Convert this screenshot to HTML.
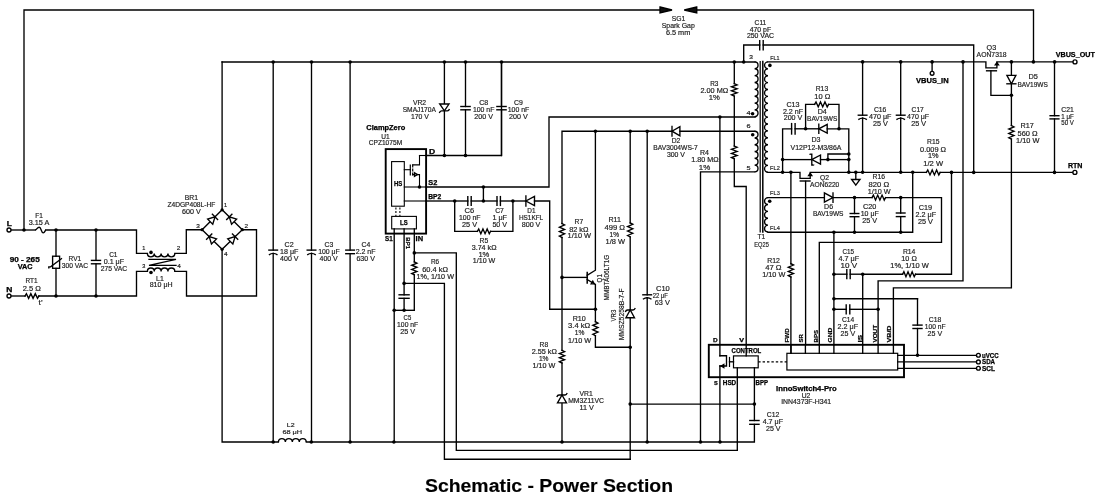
<!DOCTYPE html>
<html><head><meta charset="utf-8"><style>
html,body{margin:0;padding:0;background:#fff;width:1100px;height:502px;overflow:hidden}
svg{display:block;will-change:transform}
text{font-family:"Liberation Sans",sans-serif;stroke:#222;stroke-width:0.18px}
</style></head><body>
<svg width="1100" height="502" viewBox="0 0 1100 502">
<rect width="1100" height="502" fill="#fff"/>
<polyline points="24,230 24,10 660,10" fill="none" stroke="#000" stroke-width="1.35" stroke-linejoin="miter" stroke-linecap="square"/>
<path d="M660,7 L672,10 L660,13 Z" fill="#111" stroke="#000" stroke-width="1.35" />
<polyline points="696.75,10 1033.5,10 1033.5,62" fill="none" stroke="#000" stroke-width="1.35" stroke-linejoin="miter" stroke-linecap="square"/>
<path d="M696.75,7 L684.25,10 L696.75,13 Z" fill="#111" stroke="#000" stroke-width="1.35" />
<text x="671.7" y="20.5" textLength="13.6" lengthAdjust="spacingAndGlyphs" font-size="6.7" fill="#222">SG1</text>
<text x="661.7" y="27.5" textLength="33.1" lengthAdjust="spacingAndGlyphs" font-size="6.7" fill="#222">Spark Gap</text>
<text x="665.95" y="34.5" textLength="24.35" lengthAdjust="spacingAndGlyphs" font-size="6.7" fill="#222">6.5 mm</text>
<polyline points="11.3,230 35,230" fill="none" stroke="#000" stroke-width="1.35" stroke-linejoin="miter" stroke-linecap="square"/>
<path d="M35,230 C37,230 37,227.2 39.2,227.2 C41.4,227.2 41,232.8 43.2,232.8 C45,232.8 45,230 46,230" fill="none" stroke="#000" stroke-width="1.35" />
<polyline points="46,230 136.5,230 136.5,253.4 147.4,253.4" fill="none" stroke="#000" stroke-width="1.35" stroke-linejoin="miter" stroke-linecap="square"/>
<circle cx="9" cy="230" r="2" fill="#fff" stroke="#000" stroke-width="1.35"/>
<circle cx="24" cy="230" r="1.8" fill="#000"/>
<circle cx="56" cy="230" r="1.8" fill="#000"/>
<circle cx="96" cy="230" r="1.8" fill="#000"/>
<text x="6.7" y="225.8" textLength="5.1" lengthAdjust="spacingAndGlyphs" font-size="6.5" font-weight="bold" style="stroke:#000;stroke-width:0.25px" fill="#000">L</text>
<text x="35.2" y="217.8" textLength="7.6" lengthAdjust="spacingAndGlyphs" font-size="6.7" fill="#222">F1</text>
<text x="28.7" y="225.2" textLength="20.6" lengthAdjust="spacingAndGlyphs" font-size="6.7" fill="#222">3.15 A</text>
<polyline points="11.3,296 25,296" fill="none" stroke="#000" stroke-width="1.35" stroke-linejoin="miter" stroke-linecap="square"/>
<polyline points="25,296 26.39,293.6 28.61,298.4 30.84,293.6 33.06,298.4 35.29,293.6 37.51,298.4 38.9,296" fill="none" stroke="#000" stroke-width="1.35" stroke-linejoin="miter" stroke-linecap="square"/>
<polyline points="38.9,296 136.5,296 136.5,271.4 147.4,271.4" fill="none" stroke="#000" stroke-width="1.35" stroke-linejoin="miter" stroke-linecap="square"/>
<circle cx="9" cy="296" r="2" fill="#fff" stroke="#000" stroke-width="1.35"/>
<circle cx="56" cy="296" r="1.8" fill="#000"/>
<circle cx="96" cy="296" r="1.8" fill="#000"/>
<text x="6.2" y="292" textLength="6.1" lengthAdjust="spacingAndGlyphs" font-size="6.5" font-weight="bold" style="stroke:#000;stroke-width:0.25px" fill="#000">N</text>
<text x="25.4" y="283.4" textLength="12.1" lengthAdjust="spacingAndGlyphs" font-size="6.7" fill="#222">RT1</text>
<text x="22.7" y="290.7" textLength="18.1" lengthAdjust="spacingAndGlyphs" font-size="6.7" fill="#222">2.5 Ω</text>
<text x="38.6" y="304.8" textLength="3.9" lengthAdjust="spacingAndGlyphs" font-size="6.6" fill="#222">t'</text>
<text x="9.7" y="261.8" textLength="30" lengthAdjust="spacingAndGlyphs" font-size="6.6" font-weight="bold" style="stroke:#000;stroke-width:0.25px" fill="#000">90 - 265</text>
<text x="17.7" y="268.8" textLength="14.9" lengthAdjust="spacingAndGlyphs" font-size="6.6" font-weight="bold" style="stroke:#000;stroke-width:0.25px" fill="#000">VAC</text>
<polyline points="56,230 56,256.2" fill="none" stroke="#000" stroke-width="1.35" stroke-linejoin="miter" stroke-linecap="square"/>
<rect x="52.6" y="256.2" width="7" height="12.1" fill="none" stroke="#000" stroke-width="1.35"/>
<polyline points="56,268.3 56,296" fill="none" stroke="#000" stroke-width="1.35" stroke-linejoin="miter" stroke-linecap="square"/>
<path d="M48.8,268.6 L48.8,266.8 L50.6,266.8 L62,258.2" fill="none" stroke="#000" stroke-width="1.35" />
<text x="68.6" y="260.8" textLength="12.6" lengthAdjust="spacingAndGlyphs" font-size="6.7" fill="#222">RV1</text>
<text x="61.8" y="267.8" textLength="26.3" lengthAdjust="spacingAndGlyphs" font-size="6.7" fill="#222">300 VAC</text>
<polyline points="96,230 96,260.4" fill="none" stroke="#000" stroke-width="1.35" stroke-linejoin="miter" stroke-linecap="square"/>
<polyline points="96,263.8 96,296" fill="none" stroke="#000" stroke-width="1.35" stroke-linejoin="miter" stroke-linecap="square"/>
<polyline points="91.5,260.4 100.5,260.4" fill="none" stroke="#000" stroke-width="1.4" stroke-linejoin="miter" stroke-linecap="square"/>
<polyline points="91.5,263.8 100.5,263.8" fill="none" stroke="#000" stroke-width="1.4" stroke-linejoin="miter" stroke-linecap="square"/>
<text x="109.2" y="256.8" textLength="8.3" lengthAdjust="spacingAndGlyphs" font-size="6.7" fill="#222">C1</text>
<text x="103.7" y="263.9" textLength="20.4" lengthAdjust="spacingAndGlyphs" font-size="6.7" fill="#222">0.1 μF</text>
<text x="100.7" y="271" textLength="26.5" lengthAdjust="spacingAndGlyphs" font-size="6.7" fill="#222">275 VAC</text>
<path d="M147.4,253.4 a3.42,3.42 0 0 0 6.85,0 a3.42,3.42 0 0 0 6.85,0 a3.42,3.42 0 0 0 6.85,0 a3.42,3.42 0 0 0 6.85,0" fill="none" stroke="#000" stroke-width="1.35" />
<path d="M147.4,271.4 a3.42,3.42 0 0 1 6.85,0 a3.42,3.42 0 0 1 6.85,0 a3.42,3.42 0 0 1 6.85,0 a3.42,3.42 0 0 1 6.85,0" fill="none" stroke="#000" stroke-width="1.35" />
<polyline points="174.8,253.4 186.3,253.4 186.3,229.7 202.1,229.7" fill="none" stroke="#000" stroke-width="1.35" stroke-linejoin="miter" stroke-linecap="square"/>
<polyline points="174.8,271.4 186.5,271.4 186.5,296 256.5,296 256.5,229.7 242.3,229.7" fill="none" stroke="#000" stroke-width="1.35" stroke-linejoin="miter" stroke-linecap="square"/>
<polyline points="149,259.4 176,259.4 149,265.4 176,265.4" fill="none" stroke="#000" stroke-width="1.35" stroke-linejoin="miter" stroke-linecap="square"/>
<circle cx="151" cy="252.4" r="1.8" fill="#000"/>
<circle cx="151" cy="272.5" r="1.8" fill="#000"/>
<text x="142.2" y="250" textLength="3.1" lengthAdjust="spacingAndGlyphs" font-size="5.8" fill="#222">1</text>
<text x="176.7" y="250" textLength="3.6" lengthAdjust="spacingAndGlyphs" font-size="5.8" fill="#222">2</text>
<text x="142.2" y="268.2" textLength="3.1" lengthAdjust="spacingAndGlyphs" font-size="5.8" fill="#222">3</text>
<text x="177.2" y="268.2" textLength="3.6" lengthAdjust="spacingAndGlyphs" font-size="5.8" fill="#222">4</text>
<text x="156.1" y="280.8" textLength="7.7" lengthAdjust="spacingAndGlyphs" font-size="6.7" fill="#222">L1</text>
<text x="149.7" y="287.3" textLength="22.9" lengthAdjust="spacingAndGlyphs" font-size="6.7" fill="#222">810 μH</text>
<polyline points="222.1,62 222.1,209.8" fill="none" stroke="#000" stroke-width="1.35" stroke-linejoin="miter" stroke-linecap="square"/>
<polyline points="222.1,249.3 222.1,442 278.4,442" fill="none" stroke="#000" stroke-width="1.35" stroke-linejoin="miter" stroke-linecap="square"/>
<polyline points="202.1,229.7 222.1,209.8 242.3,229.7 222.1,249.3 202.1,229.7" fill="none" stroke="#000" stroke-width="1.35" stroke-linejoin="miter" stroke-linecap="square"/>
<circle cx="222.1" cy="209.8" r="1.6" fill="#000"/>
<circle cx="202.1" cy="229.7" r="1.6" fill="#000"/>
<circle cx="242.3" cy="229.7" r="1.6" fill="#000"/>
<circle cx="222.1" cy="249.3" r="1.6" fill="#000"/>
<path d="M212.74,224.2 L215,216.85 L207.65,219.11 Z" fill="#fff" stroke="#000" stroke-width="1.35" />
<polyline points="217.62,219.47 212.38,214.23" fill="none" stroke="#000" stroke-width="1.35" stroke-linejoin="miter" stroke-linecap="square"/>
<path d="M236.65,219.11 L229.3,216.85 L231.56,224.2 Z" fill="#fff" stroke="#000" stroke-width="1.35" />
<polyline points="231.92,214.23 226.68,219.47" fill="none" stroke="#000" stroke-width="1.35" stroke-linejoin="miter" stroke-linecap="square"/>
<path d="M216.55,238.86 L209.2,236.6 L211.46,243.95 Z" fill="#fff" stroke="#000" stroke-width="1.35" />
<polyline points="211.82,233.98 206.58,239.22" fill="none" stroke="#000" stroke-width="1.35" stroke-linejoin="miter" stroke-linecap="square"/>
<path d="M232.84,243.95 L235.1,236.6 L227.75,238.86 Z" fill="#fff" stroke="#000" stroke-width="1.35" />
<polyline points="237.72,239.22 232.48,233.98" fill="none" stroke="#000" stroke-width="1.35" stroke-linejoin="miter" stroke-linecap="square"/>
<text x="184.7" y="199.8" textLength="13.3" lengthAdjust="spacingAndGlyphs" font-size="6.7" fill="#222">BR1</text>
<text x="167.4" y="206.7" textLength="47.9" lengthAdjust="spacingAndGlyphs" font-size="6.7" fill="#222">Z4DGP408L-HF</text>
<text x="182" y="213.7" textLength="18.7" lengthAdjust="spacingAndGlyphs" font-size="6.7" fill="#222">600 V</text>
<text x="224" y="206.5" textLength="3.1" lengthAdjust="spacingAndGlyphs" font-size="5.8" fill="#222">1</text>
<text x="196.2" y="227.8" textLength="3.6" lengthAdjust="spacingAndGlyphs" font-size="5.8" fill="#222">3</text>
<text x="244.5" y="227.8" textLength="3.6" lengthAdjust="spacingAndGlyphs" font-size="5.8" fill="#222">2</text>
<text x="224" y="255.5" textLength="3.6" lengthAdjust="spacingAndGlyphs" font-size="5.8" fill="#222">4</text>
<polyline points="222.1,62 755,62" fill="none" stroke="#000" stroke-width="1.35" stroke-linejoin="miter" stroke-linecap="square"/>
<circle cx="273.2" cy="62" r="1.8" fill="#000"/>
<circle cx="311.5" cy="62" r="1.8" fill="#000"/>
<circle cx="350.1" cy="62" r="1.8" fill="#000"/>
<circle cx="444.4" cy="62" r="1.8" fill="#000"/>
<circle cx="465.5" cy="62" r="1.8" fill="#000"/>
<circle cx="501.5" cy="62" r="1.8" fill="#000"/>
<polyline points="273.2,62 273.2,250.1" fill="none" stroke="#000" stroke-width="1.35" stroke-linejoin="miter" stroke-linecap="square"/>
<polyline points="273.2,253.3 273.2,442" fill="none" stroke="#000" stroke-width="1.35" stroke-linejoin="miter" stroke-linecap="square"/>
<polyline points="268.9,250.1 277.5,250.1" fill="none" stroke="#000" stroke-width="1.4" stroke-linejoin="miter" stroke-linecap="square"/>
<path d="M268.9,254.9 Q273.2,251.9 277.5,254.9" fill="none" stroke="#000" stroke-width="1.4" />
<polyline points="311.5,62 311.5,250.1" fill="none" stroke="#000" stroke-width="1.35" stroke-linejoin="miter" stroke-linecap="square"/>
<polyline points="311.5,253.3 311.5,442" fill="none" stroke="#000" stroke-width="1.35" stroke-linejoin="miter" stroke-linecap="square"/>
<polyline points="307.2,250.1 315.8,250.1" fill="none" stroke="#000" stroke-width="1.4" stroke-linejoin="miter" stroke-linecap="square"/>
<path d="M307.2,254.9 Q311.5,251.9 315.8,254.9" fill="none" stroke="#000" stroke-width="1.4" />
<polyline points="350.1,62 350.1,250.1" fill="none" stroke="#000" stroke-width="1.35" stroke-linejoin="miter" stroke-linecap="square"/>
<polyline points="350.1,253.7 350.1,442" fill="none" stroke="#000" stroke-width="1.35" stroke-linejoin="miter" stroke-linecap="square"/>
<polyline points="345.8,250.1 354.4,250.1" fill="none" stroke="#000" stroke-width="1.4" stroke-linejoin="miter" stroke-linecap="square"/>
<polyline points="345.8,253.7 354.4,253.7" fill="none" stroke="#000" stroke-width="1.4" stroke-linejoin="miter" stroke-linecap="square"/>
<text x="284.5" y="247.2" textLength="9.1" lengthAdjust="spacingAndGlyphs" font-size="6.7" fill="#222">C2</text>
<text x="280.1" y="254.2" textLength="18.4" lengthAdjust="spacingAndGlyphs" font-size="6.7" fill="#222">18 μF</text>
<text x="280.1" y="261.2" textLength="18.4" lengthAdjust="spacingAndGlyphs" font-size="6.7" fill="#222">400 V</text>
<text x="324.6" y="247.2" textLength="8.7" lengthAdjust="spacingAndGlyphs" font-size="6.7" fill="#222">C3</text>
<text x="318.2" y="254.2" textLength="21.6" lengthAdjust="spacingAndGlyphs" font-size="6.7" fill="#222">100 μF</text>
<text x="319.5" y="261.2" textLength="18.3" lengthAdjust="spacingAndGlyphs" font-size="6.7" fill="#222">400 V</text>
<text x="361.5" y="247.2" textLength="8.8" lengthAdjust="spacingAndGlyphs" font-size="6.7" fill="#222">C4</text>
<text x="355.7" y="254.2" textLength="19.8" lengthAdjust="spacingAndGlyphs" font-size="6.7" fill="#222">2.2 nF</text>
<text x="356.4" y="261.2" textLength="18.5" lengthAdjust="spacingAndGlyphs" font-size="6.7" fill="#222">630 V</text>
<path d="M278.4,442 a3.49,3.49 0 0 1 6.97,0 a3.49,3.49 0 0 1 6.97,0 a3.49,3.49 0 0 1 6.97,0 a3.49,3.49 0 0 1 6.97,0" fill="none" stroke="#000" stroke-width="1.35" />
<polyline points="306.3,442 754.4,442 754.4,424.3" fill="none" stroke="#000" stroke-width="1.35" stroke-linejoin="miter" stroke-linecap="square"/>
<circle cx="273.2" cy="442" r="1.8" fill="#000"/>
<circle cx="311.3" cy="442" r="1.8" fill="#000"/>
<circle cx="350.1" cy="442" r="1.8" fill="#000"/>
<circle cx="393.9" cy="442" r="1.8" fill="#000"/>
<text x="286.8" y="427.4" textLength="7.8" lengthAdjust="spacingAndGlyphs" font-size="6.2" fill="#222">L2</text>
<text x="282.4" y="434.3" textLength="19.8" lengthAdjust="spacingAndGlyphs" font-size="6.2" fill="#222">68 μH</text>
<text x="366.3" y="130.2" textLength="38.9" lengthAdjust="spacingAndGlyphs" font-size="6.8" font-weight="bold" style="stroke:#000;stroke-width:0.25px" fill="#000">ClampZero</text>
<text x="381.2" y="138.5" textLength="8.4" lengthAdjust="spacingAndGlyphs" font-size="6.7" fill="#222">U1</text>
<text x="368.7" y="145.1" textLength="33.5" lengthAdjust="spacingAndGlyphs" font-size="6.7" fill="#222">CPZ1075M</text>
<rect x="385.7" y="149.1" width="40.4" height="84.5" fill="none" stroke="#000" stroke-width="1.9"/>
<rect x="391.6" y="161.6" width="12.7" height="44.6" fill="none" stroke="#000" stroke-width="1.1"/>
<rect x="391.7" y="216.4" width="24.7" height="12.5" fill="none" stroke="#000" stroke-width="1.1"/>
<text x="393.9" y="185.7" textLength="8.3" lengthAdjust="spacingAndGlyphs" font-size="6.3" font-weight="bold" style="stroke:#000;stroke-width:0.25px" fill="#000">HS</text>
<text x="400.1" y="224.9" textLength="7.6" lengthAdjust="spacingAndGlyphs" font-size="6.3" font-weight="bold" style="stroke:#000;stroke-width:0.25px" fill="#000">LS</text>
<path d="M395.9,207.5 L395.9,216 M399.9,207.5 L399.9,216" fill="none" stroke="#000" stroke-width="1.1" stroke-dasharray="2,1.6"/>
<polyline points="404.3,169.7 410.3,169.7" fill="none" stroke="#000" stroke-width="1.1" stroke-linejoin="miter" stroke-linecap="square"/>
<polyline points="410.3,165.2 410.3,174.8" fill="none" stroke="#000" stroke-width="1.2" stroke-linejoin="miter" stroke-linecap="square"/>
<path d="M412.7,164.5 L412.7,167.5 M412.7,168.5 L412.7,171.5 M412.7,172.5 L412.7,175.5" fill="none" stroke="#000" stroke-width="1.2" />
<polyline points="412.7,164.9 419.5,164.9 419.5,155.5" fill="none" stroke="#000" stroke-width="1.1" stroke-linejoin="miter" stroke-linecap="square"/>
<polyline points="412.7,174.6 419.5,174.6 419.5,187" fill="none" stroke="#000" stroke-width="1.1" stroke-linejoin="miter" stroke-linecap="square"/>
<path d="M414.5,172.8 L417.5,174.6 L414.5,176.4 Z" fill="#fff" stroke="#000" stroke-width="1.35" />
<text x="429.1" y="154.1" textLength="6.2" lengthAdjust="spacingAndGlyphs" font-size="6.5" font-weight="bold" style="stroke:#000;stroke-width:0.25px" fill="#000">D</text>
<text x="428.3" y="185.1" textLength="9" lengthAdjust="spacingAndGlyphs" font-size="6.5" font-weight="bold" style="stroke:#000;stroke-width:0.25px" fill="#000">S2</text>
<text x="428.3" y="198.7" textLength="13" lengthAdjust="spacingAndGlyphs" font-size="6.5" font-weight="bold" style="stroke:#000;stroke-width:0.25px" fill="#000">BP2</text>
<text x="385.1" y="241.3" textLength="7.6" lengthAdjust="spacingAndGlyphs" font-size="6.5" font-weight="bold" style="stroke:#000;stroke-width:0.25px" fill="#000">S1</text>
<text x="415.6" y="241.3" textLength="7.5" lengthAdjust="spacingAndGlyphs" font-size="6.5" font-weight="bold" style="stroke:#000;stroke-width:0.25px" fill="#000">IN</text>
<text transform="translate(406.2,237.6) rotate(90)" x="-0.3" y="0" textLength="11.7" lengthAdjust="spacingAndGlyphs" font-size="6" font-weight="bold" style="stroke:#000;stroke-width:0.2px" fill="#000">BP1</text>
<polyline points="419.5,155.5 426,155.5" fill="none" stroke="#000" stroke-width="1.1" stroke-linejoin="miter" stroke-linecap="square"/>
<polyline points="426,155.5 501.5,155.5 501.5,62" fill="none" stroke="#000" stroke-width="1.35" stroke-linejoin="miter" stroke-linecap="square"/>
<circle cx="444.4" cy="155.5" r="1.8" fill="#000"/>
<circle cx="465.5" cy="155.5" r="1.8" fill="#000"/>
<polyline points="444.4,62 444.4,104" fill="none" stroke="#000" stroke-width="1.35" stroke-linejoin="miter" stroke-linecap="square"/>
<path d="M439.7,104 L449,104 L444.4,110.9 Z" fill="#fff" stroke="#000" stroke-width="1.35" />
<path d="M439.3,113 Q440,110.9 441.5,110.9 L447.4,110.9 Q448.8,110.9 449.5,109" fill="none" stroke="#000" stroke-width="1.35" />
<polyline points="444.4,110.9 444.4,155.5" fill="none" stroke="#000" stroke-width="1.35" stroke-linejoin="miter" stroke-linecap="square"/>
<text x="412.9" y="104.6" textLength="13.2" lengthAdjust="spacingAndGlyphs" font-size="6.7" fill="#222">VR2</text>
<text x="402.7" y="111.6" textLength="33.2" lengthAdjust="spacingAndGlyphs" font-size="6.7" fill="#222">SMAJ170A</text>
<text x="410.9" y="118.6" textLength="18" lengthAdjust="spacingAndGlyphs" font-size="6.7" fill="#222">170 V</text>
<polyline points="465.5,62 465.5,106.5" fill="none" stroke="#000" stroke-width="1.35" stroke-linejoin="miter" stroke-linecap="square"/>
<polyline points="465.5,109.8 465.5,155.5" fill="none" stroke="#000" stroke-width="1.35" stroke-linejoin="miter" stroke-linecap="square"/>
<polyline points="460.9,106.5 470.1,106.5" fill="none" stroke="#000" stroke-width="1.4" stroke-linejoin="miter" stroke-linecap="square"/>
<polyline points="460.9,109.8 470.1,109.8" fill="none" stroke="#000" stroke-width="1.4" stroke-linejoin="miter" stroke-linecap="square"/>
<polyline points="501.5,62 501.5,106.5" fill="none" stroke="#000" stroke-width="1.35" stroke-linejoin="miter" stroke-linecap="square"/>
<polyline points="501.5,109.8 501.5,155.5" fill="none" stroke="#000" stroke-width="1.35" stroke-linejoin="miter" stroke-linecap="square"/>
<polyline points="496.9,106.5 506.1,106.5" fill="none" stroke="#000" stroke-width="1.4" stroke-linejoin="miter" stroke-linecap="square"/>
<polyline points="496.9,109.8 506.1,109.8" fill="none" stroke="#000" stroke-width="1.4" stroke-linejoin="miter" stroke-linecap="square"/>
<text x="479.2" y="104.6" textLength="9" lengthAdjust="spacingAndGlyphs" font-size="6.7" fill="#222">C8</text>
<text x="472.9" y="111.6" textLength="21.5" lengthAdjust="spacingAndGlyphs" font-size="6.7" fill="#222">100 nF</text>
<text x="474.3" y="118.6" textLength="18.7" lengthAdjust="spacingAndGlyphs" font-size="6.7" fill="#222">200 V</text>
<text x="514.1" y="104.6" textLength="8.8" lengthAdjust="spacingAndGlyphs" font-size="6.7" fill="#222">C9</text>
<text x="507.7" y="111.6" textLength="21.6" lengthAdjust="spacingAndGlyphs" font-size="6.7" fill="#222">100 nF</text>
<text x="509.1" y="118.6" textLength="18.7" lengthAdjust="spacingAndGlyphs" font-size="6.7" fill="#222">200 V</text>
<polyline points="404.3,187 426,187" fill="none" stroke="#000" stroke-width="1.1" stroke-linejoin="miter" stroke-linecap="square"/>
<polyline points="426,187 549,187 549,117 755,117" fill="none" stroke="#000" stroke-width="1.35" stroke-linejoin="miter" stroke-linecap="square"/>
<circle cx="419.5" cy="187" r="1.8" fill="#000"/>
<circle cx="483.4" cy="187" r="1.8" fill="#000"/>
<circle cx="719.9" cy="117" r="1.8" fill="#000"/>
<polyline points="404.3,201 426,201" fill="none" stroke="#000" stroke-width="1.1" stroke-linejoin="miter" stroke-linecap="square"/>
<polyline points="426,201 454.7,201" fill="none" stroke="#000" stroke-width="1.35" stroke-linejoin="miter" stroke-linecap="square"/>
<polyline points="454.7,201 467.8,201" fill="none" stroke="#000" stroke-width="1.35" stroke-linejoin="miter" stroke-linecap="square"/>
<polyline points="471.2,201 483.4,201" fill="none" stroke="#000" stroke-width="1.35" stroke-linejoin="miter" stroke-linecap="square"/>
<polyline points="467.8,196.6 467.8,205.4" fill="none" stroke="#000" stroke-width="1.4" stroke-linejoin="miter" stroke-linecap="square"/>
<polyline points="471.2,196.6 471.2,205.4" fill="none" stroke="#000" stroke-width="1.4" stroke-linejoin="miter" stroke-linecap="square"/>
<polyline points="483.4,201 497,201" fill="none" stroke="#000" stroke-width="1.35" stroke-linejoin="miter" stroke-linecap="square"/>
<polyline points="500.4,201 512.9,201" fill="none" stroke="#000" stroke-width="1.35" stroke-linejoin="miter" stroke-linecap="square"/>
<polyline points="497,196.6 497,205.4" fill="none" stroke="#000" stroke-width="1.4" stroke-linejoin="miter" stroke-linecap="square"/>
<polyline points="500.4,196.6 500.4,205.4" fill="none" stroke="#000" stroke-width="1.4" stroke-linejoin="miter" stroke-linecap="square"/>
<polyline points="483.4,201 483.4,187" fill="none" stroke="#000" stroke-width="1.35" stroke-linejoin="miter" stroke-linecap="square"/>
<circle cx="454.7" cy="201" r="1.8" fill="#000"/>
<circle cx="483.4" cy="201" r="1.8" fill="#000"/>
<circle cx="512.9" cy="201" r="1.8" fill="#000"/>
<polyline points="512.9,201 525.9,201" fill="none" stroke="#000" stroke-width="1.35" stroke-linejoin="miter" stroke-linecap="square"/>
<path d="M534.5,196.4 L534.5,205.6 L525.9,201 Z" fill="#fff" stroke="#000" stroke-width="1.35" />
<polyline points="525.9,196 525.9,206" fill="none" stroke="#000" stroke-width="1.35" stroke-linejoin="miter" stroke-linecap="square"/>
<polyline points="534.5,201 549.7,201 549.7,309.2 595.5,309.2" fill="none" stroke="#000" stroke-width="1.35" stroke-linejoin="miter" stroke-linecap="square"/>
<polyline points="454.7,201 454.7,231.3 477.4,231.3" fill="none" stroke="#000" stroke-width="1.35" stroke-linejoin="miter" stroke-linecap="square"/>
<polyline points="477.4,231.3 478.72,228.9 480.83,233.7 482.94,228.9 485.06,233.7 487.17,228.9 489.28,233.7 490.6,231.3" fill="none" stroke="#000" stroke-width="1.35" stroke-linejoin="miter" stroke-linecap="square"/>
<polyline points="490.6,231.3 512.9,231.3 512.9,201" fill="none" stroke="#000" stroke-width="1.35" stroke-linejoin="miter" stroke-linecap="square"/>
<text x="464.5" y="213.4" textLength="9.7" lengthAdjust="spacingAndGlyphs" font-size="6.7" fill="#222">C6</text>
<text x="459" y="220.4" textLength="21.5" lengthAdjust="spacingAndGlyphs" font-size="6.7" fill="#222">100 nF</text>
<text x="462" y="227.4" textLength="15" lengthAdjust="spacingAndGlyphs" font-size="6.7" fill="#222">25 V</text>
<text x="495.2" y="213.4" textLength="8.7" lengthAdjust="spacingAndGlyphs" font-size="6.7" fill="#222">C7</text>
<text x="492.4" y="220.4" textLength="14.6" lengthAdjust="spacingAndGlyphs" font-size="6.7" fill="#222">1 μF</text>
<text x="492.4" y="227.4" textLength="14.6" lengthAdjust="spacingAndGlyphs" font-size="6.7" fill="#222">50 V</text>
<text x="527.3" y="213.4" textLength="8.2" lengthAdjust="spacingAndGlyphs" font-size="6.7" fill="#222">D1</text>
<text x="518.9" y="220.4" textLength="24.3" lengthAdjust="spacingAndGlyphs" font-size="6.7" fill="#222">HS1KFL</text>
<text x="521.7" y="227.4" textLength="18.7" lengthAdjust="spacingAndGlyphs" font-size="6.7" fill="#222">800 V</text>
<text x="479.6" y="242.5" textLength="8.7" lengthAdjust="spacingAndGlyphs" font-size="6.7" fill="#222">R5</text>
<text x="471.7" y="249.6" textLength="24.8" lengthAdjust="spacingAndGlyphs" font-size="6.7" fill="#222">3.74 kΩ</text>
<text x="478.4" y="256.5" textLength="11" lengthAdjust="spacingAndGlyphs" font-size="6.7" fill="#222">1%</text>
<text x="472.8" y="263.3" textLength="22.5" lengthAdjust="spacingAndGlyphs" font-size="6.7" fill="#222">1/10 W</text>
<polyline points="394.2,228.9 394.2,442" fill="none" stroke="#000" stroke-width="1.35" stroke-linejoin="miter" stroke-linecap="square"/>
<polyline points="404.1,228.9 404.1,283.4" fill="none" stroke="#000" stroke-width="1.35" stroke-linejoin="miter" stroke-linecap="square"/>
<polyline points="414.3,228.9 414.3,252.9" fill="none" stroke="#000" stroke-width="1.35" stroke-linejoin="miter" stroke-linecap="square"/>
<polyline points="414.3,252.9 414.3,261.9" fill="none" stroke="#000" stroke-width="1.35" stroke-linejoin="miter" stroke-linecap="square"/>
<polyline points="414.3,261.9 416.9,263.19 411.7,265.25 416.9,267.32 411.7,269.38 416.9,271.45 411.7,273.51 414.3,274.8" fill="none" stroke="#000" stroke-width="1.35" stroke-linejoin="miter" stroke-linecap="square"/>
<polyline points="414.3,274.8 414.3,310.3" fill="none" stroke="#000" stroke-width="1.35" stroke-linejoin="miter" stroke-linecap="square"/>
<polyline points="414.3,310.3 394.2,310.3" fill="none" stroke="#000" stroke-width="1.35" stroke-linejoin="miter" stroke-linecap="square"/>
<polyline points="414.3,252.9 456.3,252.9 456.3,450.4 737.3,450.4 737.3,367.8" fill="none" stroke="#000" stroke-width="1.35" stroke-linejoin="miter" stroke-linecap="square"/>
<polyline points="404.1,283.4 404.1,294.8" fill="none" stroke="#000" stroke-width="1.35" stroke-linejoin="miter" stroke-linecap="square"/>
<polyline points="404.1,298.3 404.1,310.3" fill="none" stroke="#000" stroke-width="1.35" stroke-linejoin="miter" stroke-linecap="square"/>
<polyline points="399.1,294.8 409.1,294.8" fill="none" stroke="#000" stroke-width="1.4" stroke-linejoin="miter" stroke-linecap="square"/>
<polyline points="399.1,298.3 409.1,298.3" fill="none" stroke="#000" stroke-width="1.4" stroke-linejoin="miter" stroke-linecap="square"/>
<polyline points="404.1,283.4 444.4,283.4 444.4,459.2 630.2,459.2" fill="none" stroke="#000" stroke-width="1.35" stroke-linejoin="miter" stroke-linecap="square"/>
<circle cx="414.3" cy="252.9" r="1.8" fill="#000"/>
<circle cx="404.1" cy="283.4" r="1.8" fill="#000"/>
<circle cx="394.2" cy="310.3" r="1.8" fill="#000"/>
<circle cx="404.1" cy="310.3" r="1.8" fill="#000"/>
<text x="430.9" y="263.9" textLength="8.2" lengthAdjust="spacingAndGlyphs" font-size="6.7" fill="#222">R6</text>
<text x="422.2" y="271.9" textLength="25.8" lengthAdjust="spacingAndGlyphs" font-size="6.7" fill="#222">60.4 kΩ</text>
<text x="416.6" y="278.8" textLength="37.4" lengthAdjust="spacingAndGlyphs" font-size="6.7" fill="#222">1%, 1/10 W</text>
<text x="403.6" y="319.7" textLength="7.6" lengthAdjust="spacingAndGlyphs" font-size="6.7" fill="#222">C5</text>
<text x="397.1" y="326.6" textLength="21.1" lengthAdjust="spacingAndGlyphs" font-size="6.7" fill="#222">100 nF</text>
<text x="400.2" y="333.5" textLength="14.9" lengthAdjust="spacingAndGlyphs" font-size="6.7" fill="#222">25 V</text>
<polyline points="562,223.5 562,131.2 672,131.2" fill="none" stroke="#000" stroke-width="1.35" stroke-linejoin="miter" stroke-linecap="square"/>
<polyline points="562,237.5 562,350.3" fill="none" stroke="#000" stroke-width="1.35" stroke-linejoin="miter" stroke-linecap="square"/>
<polyline points="562,363 562,395" fill="none" stroke="#000" stroke-width="1.35" stroke-linejoin="miter" stroke-linecap="square"/>
<polyline points="562,402.9 562,442" fill="none" stroke="#000" stroke-width="1.35" stroke-linejoin="miter" stroke-linecap="square"/>
<path d="M679.9,126.6 L679.9,135.8 L672,131.2 Z" fill="#fff" stroke="#000" stroke-width="1.35" />
<polyline points="672,126.4 672,136" fill="none" stroke="#000" stroke-width="1.35" stroke-linejoin="miter" stroke-linecap="square"/>
<polyline points="679.9,131.2 754.6,131.2" fill="none" stroke="#000" stroke-width="1.35" stroke-linejoin="miter" stroke-linecap="square"/>
<circle cx="595.4" cy="131.2" r="1.8" fill="#000"/>
<circle cx="630.2" cy="131.2" r="1.8" fill="#000"/>
<circle cx="647.2" cy="131.2" r="1.8" fill="#000"/>
<text x="671.7" y="142.6" textLength="8.6" lengthAdjust="spacingAndGlyphs" font-size="6.7" fill="#222">D2</text>
<text x="653.3" y="150.3" textLength="44.5" lengthAdjust="spacingAndGlyphs" font-size="6.7" fill="#222">BAV3004WS-7</text>
<text x="666.9" y="157" textLength="18.1" lengthAdjust="spacingAndGlyphs" font-size="6.7" fill="#222">300 V</text>
<polyline points="562,223.5 564.6,224.9 559.4,227.14 564.6,229.38 559.4,231.62 564.6,233.86 559.4,236.1 562,237.5" fill="none" stroke="#000" stroke-width="1.35" stroke-linejoin="miter" stroke-linecap="square"/>
<polyline points="562,350.3 564.6,351.57 559.4,353.6 564.6,355.63 559.4,357.67 564.6,359.7 559.4,361.73 562,363" fill="none" stroke="#000" stroke-width="1.35" stroke-linejoin="miter" stroke-linecap="square"/>
<path d="M557.5,402.9 L566.5,402.9 L562,395 Z" fill="#fff" stroke="#000" stroke-width="1.35" />
<path d="M556.8,397 Q557.5,395 559,395 L565,395 Q566.5,395 567.2,393" fill="none" stroke="#000" stroke-width="1.35" />
<circle cx="562" cy="277.4" r="1.8" fill="#000"/>
<circle cx="562" cy="442" r="1.8" fill="#000"/>
<text x="574.6" y="223.9" textLength="8.6" lengthAdjust="spacingAndGlyphs" font-size="6.7" fill="#222">R7</text>
<text x="569.2" y="231.5" textLength="19.3" lengthAdjust="spacingAndGlyphs" font-size="6.7" fill="#222">82 kΩ</text>
<text x="567.6" y="238.3" textLength="23.5" lengthAdjust="spacingAndGlyphs" font-size="6.7" fill="#222">1/10 W</text>
<text x="539.6" y="347.2" textLength="8.5" lengthAdjust="spacingAndGlyphs" font-size="6.7" fill="#222">R8</text>
<text x="531.7" y="353.9" textLength="25.2" lengthAdjust="spacingAndGlyphs" font-size="6.7" fill="#222">2.55 kΩ</text>
<text x="538.9" y="361" textLength="9.6" lengthAdjust="spacingAndGlyphs" font-size="6.7" fill="#222">1%</text>
<text x="532.4" y="368.2" textLength="22.8" lengthAdjust="spacingAndGlyphs" font-size="6.7" fill="#222">1/10 W</text>
<text x="579.5" y="395.7" textLength="13.2" lengthAdjust="spacingAndGlyphs" font-size="6.7" fill="#222">VR1</text>
<text x="568.2" y="402.9" textLength="35.8" lengthAdjust="spacingAndGlyphs" font-size="6.7" fill="#222">MM3Z11VC</text>
<text x="579.5" y="410" textLength="14.4" lengthAdjust="spacingAndGlyphs" font-size="6.7" fill="#222">11 V</text>
<polyline points="562,277.4 587.2,277.4" fill="none" stroke="#000" stroke-width="1.35" stroke-linejoin="miter" stroke-linecap="square"/>
<polyline points="587.2,272.6 587.2,283" fill="none" stroke="#000" stroke-width="1.5" stroke-linejoin="miter" stroke-linecap="square"/>
<polyline points="595.4,131.2 595.4,270.2 587.2,275.3" fill="none" stroke="#000" stroke-width="1.35" stroke-linejoin="miter" stroke-linecap="square"/>
<polyline points="587.2,279.6 595.4,284.5 595.4,309.2" fill="none" stroke="#000" stroke-width="1.35" stroke-linejoin="miter" stroke-linecap="square"/>
<path d="M591.2,283.9 L594.2,283.8 L592.8,281.2 Z" fill="#fff" stroke="#000" stroke-width="1.35" />
<circle cx="595.4" cy="309.2" r="1.8" fill="#000"/>
<text transform="translate(601.8,282.1) rotate(-90)" x="-0.3" y="0" textLength="8.3" lengthAdjust="spacingAndGlyphs" font-size="6.7" fill="#222">Q1</text>
<text transform="translate(608.6,300.2) rotate(-90)" x="-0.3" y="0" textLength="45.8" lengthAdjust="spacingAndGlyphs" font-size="6.7" fill="#222">MMBTA06LT1G</text>
<polyline points="595.4,309.2 595.4,321.7" fill="none" stroke="#000" stroke-width="1.35" stroke-linejoin="miter" stroke-linecap="square"/>
<polyline points="595.4,321.7 598,323.1 592.8,325.34 598,327.58 592.8,329.82 598,332.06 592.8,334.3 595.4,335.7" fill="none" stroke="#000" stroke-width="1.35" stroke-linejoin="miter" stroke-linecap="square"/>
<polyline points="595.4,335.7 595.4,347.2 630.2,347.2" fill="none" stroke="#000" stroke-width="1.35" stroke-linejoin="miter" stroke-linecap="square"/>
<text x="572.7" y="321.3" textLength="13.1" lengthAdjust="spacingAndGlyphs" font-size="6.7" fill="#222">R10</text>
<text x="568.1" y="328.3" textLength="22.1" lengthAdjust="spacingAndGlyphs" font-size="6.7" fill="#222">3.4 kΩ</text>
<text x="574.7" y="335.1" textLength="9.6" lengthAdjust="spacingAndGlyphs" font-size="6.7" fill="#222">1%</text>
<text x="568.1" y="342.6" textLength="23.1" lengthAdjust="spacingAndGlyphs" font-size="6.7" fill="#222">1/10 W</text>
<polyline points="630.2,131.2 630.2,222.9" fill="none" stroke="#000" stroke-width="1.35" stroke-linejoin="miter" stroke-linecap="square"/>
<polyline points="630.2,222.9 632.8,224.3 627.6,226.54 632.8,228.78 627.6,231.02 632.8,233.26 627.6,235.5 630.2,236.9" fill="none" stroke="#000" stroke-width="1.35" stroke-linejoin="miter" stroke-linecap="square"/>
<polyline points="630.2,236.9 630.2,310" fill="none" stroke="#000" stroke-width="1.35" stroke-linejoin="miter" stroke-linecap="square"/>
<path d="M625.9,317.7 L634.5,317.7 L630.2,310 Z" fill="#fff" stroke="#000" stroke-width="1.35" />
<path d="M625.3,312 Q626,310 627.5,310 L633,310 Q634.5,310 635.3,308" fill="none" stroke="#000" stroke-width="1.35" />
<polyline points="630.2,317.7 630.2,459.2" fill="none" stroke="#000" stroke-width="1.35" stroke-linejoin="miter" stroke-linecap="square"/>
<circle cx="630.2" cy="347.2" r="1.8" fill="#000"/>
<circle cx="630.2" cy="404.1" r="1.8" fill="#000"/>
<polyline points="630.2,404.1 754.4,404.1" fill="none" stroke="#000" stroke-width="1.35" stroke-linejoin="miter" stroke-linecap="square"/>
<circle cx="754.4" cy="404.1" r="1.8" fill="#000"/>
<text x="608.5" y="222.3" textLength="12.5" lengthAdjust="spacingAndGlyphs" font-size="6.7" fill="#222">R11</text>
<text x="604.5" y="229.9" textLength="20.5" lengthAdjust="spacingAndGlyphs" font-size="6.7" fill="#222">499 Ω</text>
<text x="609.5" y="236.9" textLength="9.5" lengthAdjust="spacingAndGlyphs" font-size="6.7" fill="#222">1%</text>
<text x="605.5" y="243.9" textLength="19.5" lengthAdjust="spacingAndGlyphs" font-size="6.7" fill="#222">1/8 W</text>
<text transform="translate(616,321.2) rotate(-90)" x="-0.3" y="0" textLength="11.8" lengthAdjust="spacingAndGlyphs" font-size="6.7" fill="#222">VR3</text>
<text transform="translate(623.7,340) rotate(-90)" x="-0.3" y="0" textLength="51.9" lengthAdjust="spacingAndGlyphs" font-size="6.7" fill="#222">MMSZ5258B-7-F</text>
<polyline points="647.2,131.2 647.2,294.8" fill="none" stroke="#000" stroke-width="1.35" stroke-linejoin="miter" stroke-linecap="square"/>
<polyline points="647.2,297.6 647.2,442" fill="none" stroke="#000" stroke-width="1.35" stroke-linejoin="miter" stroke-linecap="square"/>
<polyline points="642.9,294.8 651.5,294.8" fill="none" stroke="#000" stroke-width="1.4" stroke-linejoin="miter" stroke-linecap="square"/>
<path d="M642.9,299.2 Q647.2,296.2 651.5,299.2" fill="none" stroke="#000" stroke-width="1.4" />
<circle cx="647.2" cy="442" r="1.8" fill="#000"/>
<text x="656" y="291.3" textLength="13.8" lengthAdjust="spacingAndGlyphs" font-size="6.7" fill="#222">C10</text>
<text x="652.7" y="298.3" textLength="15.1" lengthAdjust="spacingAndGlyphs" font-size="6.7" fill="#222">22 μF</text>
<text x="654.7" y="305.3" textLength="15.1" lengthAdjust="spacingAndGlyphs" font-size="6.7" fill="#222">63 V</text>
<polyline points="754.6,171.8 700.5,171.8 700.5,442" fill="none" stroke="#000" stroke-width="1.35" stroke-linejoin="miter" stroke-linecap="square"/>
<circle cx="700.5" cy="442" r="1.8" fill="#000"/>
<circle cx="720" cy="442" r="1.8" fill="#000"/>
<polyline points="719.9,117 719.9,355.7" fill="none" stroke="#000" stroke-width="1.35" stroke-linejoin="miter" stroke-linecap="square"/>
<polyline points="734.3,62 734.3,83.6" fill="none" stroke="#000" stroke-width="1.35" stroke-linejoin="miter" stroke-linecap="square"/>
<polyline points="734.3,83.6 737.1,84.85 731.5,86.85 737.1,88.85 731.5,90.85 737.1,92.85 731.5,94.85 734.3,96.1" fill="none" stroke="#000" stroke-width="1.35" stroke-linejoin="miter" stroke-linecap="square"/>
<polyline points="734.3,96.1 734.3,146" fill="none" stroke="#000" stroke-width="1.35" stroke-linejoin="miter" stroke-linecap="square"/>
<polyline points="734.3,146 737.1,147.28 731.5,149.33 737.1,151.38 731.5,153.42 737.1,155.47 731.5,157.52 734.3,158.8" fill="none" stroke="#000" stroke-width="1.35" stroke-linejoin="miter" stroke-linecap="square"/>
<polyline points="734.3,158.8 734.3,186.5 746.2,186.5 746.2,355.9" fill="none" stroke="#000" stroke-width="1.35" stroke-linejoin="miter" stroke-linecap="square"/>
<circle cx="734.3" cy="62" r="1.8" fill="#000"/>
<circle cx="743.7" cy="62" r="1.8" fill="#000"/>
<text x="710.2" y="85.7" textLength="8.2" lengthAdjust="spacingAndGlyphs" font-size="6.7" fill="#222">R3</text>
<text x="700.4" y="92.9" textLength="27.8" lengthAdjust="spacingAndGlyphs" font-size="6.7" fill="#222">2.00 MΩ</text>
<text x="708.7" y="99.9" textLength="11.1" lengthAdjust="spacingAndGlyphs" font-size="6.7" fill="#222">1%</text>
<text x="700" y="155.1" textLength="9" lengthAdjust="spacingAndGlyphs" font-size="6.7" fill="#222">R4</text>
<text x="691.2" y="162.3" textLength="27.4" lengthAdjust="spacingAndGlyphs" font-size="6.7" fill="#222">1.80 MΩ</text>
<text x="698.8" y="169.5" textLength="11.4" lengthAdjust="spacingAndGlyphs" font-size="6.7" fill="#222">1%</text>
<polyline points="743.7,62 743.7,45 759.7,45" fill="none" stroke="#000" stroke-width="1.35" stroke-linejoin="miter" stroke-linecap="square"/>
<polyline points="759.7,40.8 759.7,49.9" fill="none" stroke="#000" stroke-width="1.4" stroke-linejoin="miter" stroke-linecap="square"/>
<polyline points="763.2,40.8 763.2,49.9" fill="none" stroke="#000" stroke-width="1.4" stroke-linejoin="miter" stroke-linecap="square"/>
<polyline points="763.2,45 973.7,45 973.7,172.7" fill="none" stroke="#000" stroke-width="1.35" stroke-linejoin="miter" stroke-linecap="square"/>
<text x="754.6" y="24.8" textLength="11.7" lengthAdjust="spacingAndGlyphs" font-size="6.7" fill="#222">C11</text>
<text x="749.7" y="31.7" textLength="21.5" lengthAdjust="spacingAndGlyphs" font-size="6.7" fill="#222">470 pF</text>
<text x="746.9" y="38.4" textLength="27.1" lengthAdjust="spacingAndGlyphs" font-size="6.7" fill="#222">250 VAC</text>
<path d="M754.6,61.9 a3.43,3.43 0 0 1 0,6.86 a3.43,3.43 0 0 1 0,6.86 a3.43,3.43 0 0 1 0,6.86 a3.43,3.43 0 0 1 0,6.86 a3.43,3.43 0 0 1 0,6.86 a3.43,3.43 0 0 1 0,6.86 a3.43,3.43 0 0 1 0,6.86 a3.43,3.43 0 0 1 0,6.86" fill="none" stroke="#000" stroke-width="1.35" />
<path d="M754.6,131.2 a3.38,3.38 0 0 1 0,6.77 a3.38,3.38 0 0 1 0,6.77 a3.38,3.38 0 0 1 0,6.77 a3.38,3.38 0 0 1 0,6.77 a3.38,3.38 0 0 1 0,6.77 a3.38,3.38 0 0 1 0,6.77" fill="none" stroke="#000" stroke-width="1.35" />
<path d="M768,61.9 a3.45,3.45 0 0 0 0,6.9 a3.45,3.45 0 0 0 0,6.9 a3.45,3.45 0 0 0 0,6.9 a3.45,3.45 0 0 0 0,6.9 a3.45,3.45 0 0 0 0,6.9 a3.45,3.45 0 0 0 0,6.9 a3.45,3.45 0 0 0 0,6.9 a3.45,3.45 0 0 0 0,6.9 a3.45,3.45 0 0 0 0,6.9 a3.45,3.45 0 0 0 0,6.9 a3.45,3.45 0 0 0 0,6.9 a3.45,3.45 0 0 0 0,6.9 a3.45,3.45 0 0 0 0,6.9 a3.45,3.45 0 0 0 0,6.9 a3.45,3.45 0 0 0 0,6.9 a3.45,3.45 0 0 0 0,6.9" fill="none" stroke="#000" stroke-width="1.35" />
<path d="M768,197.6 a3.44,3.44 0 0 0 0,6.88 a3.44,3.44 0 0 0 0,6.88 a3.44,3.44 0 0 0 0,6.88 a3.44,3.44 0 0 0 0,6.88 a3.44,3.44 0 0 0 0,6.88" fill="none" stroke="#000" stroke-width="1.35" />
<polyline points="760.2,61.5 760.2,232" fill="none" stroke="#000" stroke-width="1.2" stroke-linejoin="miter" stroke-linecap="square"/>
<polyline points="762.8,61.5 762.8,232" fill="none" stroke="#000" stroke-width="1.5" stroke-linejoin="miter" stroke-linecap="square"/>
<circle cx="769.9" cy="65.4" r="1.8" fill="#000"/>
<circle cx="752.6" cy="113.8" r="1.8" fill="#000"/>
<circle cx="752.7" cy="134.8" r="1.8" fill="#000"/>
<circle cx="769.7" cy="201.3" r="1.8" fill="#000"/>
<text x="749.3" y="59" textLength="3.7" lengthAdjust="spacingAndGlyphs" font-size="5.8" fill="#222">3</text>
<text x="746.4" y="114.9" textLength="4.1" lengthAdjust="spacingAndGlyphs" font-size="5.8" fill="#222">4</text>
<text x="746.4" y="128.4" textLength="4.1" lengthAdjust="spacingAndGlyphs" font-size="5.8" fill="#222">6</text>
<text x="746.4" y="170" textLength="4.1" lengthAdjust="spacingAndGlyphs" font-size="5.8" fill="#222">5</text>
<text x="770.3" y="59.6" textLength="9.3" lengthAdjust="spacingAndGlyphs" font-size="6.2" fill="#222">FL1</text>
<text x="770.1" y="170" textLength="9.7" lengthAdjust="spacingAndGlyphs" font-size="6.2" fill="#222">FL2</text>
<text x="770.1" y="195.3" textLength="9.7" lengthAdjust="spacingAndGlyphs" font-size="6.2" fill="#222">FL3</text>
<text x="770.1" y="229.5" textLength="9.7" lengthAdjust="spacingAndGlyphs" font-size="6.2" fill="#222">FL4</text>
<text x="757.5" y="238.9" textLength="7.7" lengthAdjust="spacingAndGlyphs" font-size="6.7" fill="#222">T1</text>
<text x="754.3" y="246.7" textLength="14.5" lengthAdjust="spacingAndGlyphs" font-size="6.7" fill="#222">EQ25</text>
<polyline points="768,61.9 985.9,61.9 985.9,67.8 996.9,67.8 996.9,61.9 1072.7,61.9" fill="none" stroke="#000" stroke-width="1.35" stroke-linejoin="miter" stroke-linecap="square"/>
<circle cx="1075" cy="61.9" r="2" fill="#fff" stroke="#000" stroke-width="1.35"/>
<circle cx="862.6" cy="61.9" r="1.8" fill="#000"/>
<circle cx="900.7" cy="61.9" r="1.8" fill="#000"/>
<circle cx="932.1" cy="61.9" r="1.8" fill="#000"/>
<circle cx="963" cy="61.9" r="1.8" fill="#000"/>
<circle cx="1011.4" cy="61.9" r="1.8" fill="#000"/>
<circle cx="1033.4" cy="61.9" r="1.8" fill="#000"/>
<circle cx="1054.6" cy="61.9" r="1.8" fill="#000"/>
<polyline points="932.1,61.9 932.1,71" fill="none" stroke="#000" stroke-width="1.35" stroke-linejoin="miter" stroke-linecap="square"/>
<circle cx="932.1" cy="73.3" r="1.9" fill="#fff" stroke="#000" stroke-width="1.35"/>
<text x="916" y="82.7" textLength="32.6" lengthAdjust="spacingAndGlyphs" font-size="6.8" font-weight="bold" style="stroke:#000;stroke-width:0.25px" fill="#000">VBUS_IN</text>
<text x="1055.7" y="56.9" textLength="39.1" lengthAdjust="spacingAndGlyphs" font-size="6.8" font-weight="bold" style="stroke:#000;stroke-width:0.25px" fill="#000">VBUS_OUT</text>
<polyline points="862.6,61.9 862.6,115.2" fill="none" stroke="#000" stroke-width="1.35" stroke-linejoin="miter" stroke-linecap="square"/>
<polyline points="862.6,118 862.6,172.4" fill="none" stroke="#000" stroke-width="1.35" stroke-linejoin="miter" stroke-linecap="square"/>
<polyline points="858.3,115.2 866.9,115.2" fill="none" stroke="#000" stroke-width="1.4" stroke-linejoin="miter" stroke-linecap="square"/>
<path d="M858.3,119.6 Q862.6,116.6 866.9,119.6" fill="none" stroke="#000" stroke-width="1.4" />
<polyline points="900.7,61.9 900.7,115.2" fill="none" stroke="#000" stroke-width="1.35" stroke-linejoin="miter" stroke-linecap="square"/>
<polyline points="900.7,118 900.7,172.4" fill="none" stroke="#000" stroke-width="1.35" stroke-linejoin="miter" stroke-linecap="square"/>
<polyline points="896.4,115.2 905,115.2" fill="none" stroke="#000" stroke-width="1.4" stroke-linejoin="miter" stroke-linecap="square"/>
<path d="M896.4,119.6 Q900.7,116.6 905,119.6" fill="none" stroke="#000" stroke-width="1.4" />
<text x="873.9" y="111.9" textLength="12.5" lengthAdjust="spacingAndGlyphs" font-size="6.7" fill="#222">C16</text>
<text x="869.1" y="118.9" textLength="22.4" lengthAdjust="spacingAndGlyphs" font-size="6.7" fill="#222">470 μF</text>
<text x="873" y="126" textLength="14.9" lengthAdjust="spacingAndGlyphs" font-size="6.7" fill="#222">25 V</text>
<text x="911.6" y="111.9" textLength="12.2" lengthAdjust="spacingAndGlyphs" font-size="6.7" fill="#222">C17</text>
<text x="907.1" y="118.9" textLength="22.1" lengthAdjust="spacingAndGlyphs" font-size="6.7" fill="#222">470 μF</text>
<text x="911.2" y="126" textLength="14.9" lengthAdjust="spacingAndGlyphs" font-size="6.7" fill="#222">25 V</text>
<polyline points="1054.5,61.9 1054.5,115.7" fill="none" stroke="#000" stroke-width="1.35" stroke-linejoin="miter" stroke-linecap="square"/>
<polyline points="1054.5,118.9 1054.5,172.5" fill="none" stroke="#000" stroke-width="1.35" stroke-linejoin="miter" stroke-linecap="square"/>
<polyline points="1050.1,115.7 1058.9,115.7" fill="none" stroke="#000" stroke-width="1.4" stroke-linejoin="miter" stroke-linecap="square"/>
<polyline points="1050.1,118.9 1058.9,118.9" fill="none" stroke="#000" stroke-width="1.4" stroke-linejoin="miter" stroke-linecap="square"/>
<text x="1061.3" y="111.7" textLength="12.5" lengthAdjust="spacingAndGlyphs" font-size="6.7" fill="#222">C21</text>
<text x="1061.3" y="118.6" textLength="12.5" lengthAdjust="spacingAndGlyphs" font-size="6.7" fill="#222">1 μF</text>
<text x="1061.3" y="125.4" textLength="12.5" lengthAdjust="spacingAndGlyphs" font-size="6.7" fill="#222">50 V</text>
<polyline points="986.6,70.8 996.4,70.8" fill="none" stroke="#000" stroke-width="1.4" stroke-linejoin="miter" stroke-linecap="square"/>
<polyline points="990.9,70.8 990.9,95.3 1011.4,95.3" fill="none" stroke="#000" stroke-width="1.35" stroke-linejoin="miter" stroke-linecap="square"/>
<path d="M995.3,64.8 L998.5,64.8 L996.9,62.6 Z" fill="#000" stroke="#000" stroke-width="1.35" />
<text x="986.6" y="49.9" textLength="9.6" lengthAdjust="spacingAndGlyphs" font-size="6.7" fill="#222">Q3</text>
<text x="976.6" y="56.9" textLength="29.9" lengthAdjust="spacingAndGlyphs" font-size="6.7" fill="#222">AON7318</text>
<polyline points="1011.4,61.9 1011.4,75.4" fill="none" stroke="#000" stroke-width="1.35" stroke-linejoin="miter" stroke-linecap="square"/>
<path d="M1006.9,75.4 L1015.9,75.4 L1011.4,83.8 Z" fill="#fff" stroke="#000" stroke-width="1.35" />
<polyline points="1006.9,83.8 1015.9,83.8" fill="none" stroke="#000" stroke-width="1.35" stroke-linejoin="miter" stroke-linecap="square"/>
<polyline points="1011.4,83.8 1011.4,125.5" fill="none" stroke="#000" stroke-width="1.35" stroke-linejoin="miter" stroke-linecap="square"/>
<polyline points="1011.4,125.5 1014,126.86 1008.8,129.04 1014,131.21 1008.8,133.39 1014,135.56 1008.8,137.74 1011.4,139.1" fill="none" stroke="#000" stroke-width="1.35" stroke-linejoin="miter" stroke-linecap="square"/>
<polyline points="1011.4,139.1 1011.4,287.8 893.4,287.8 893.4,344.8" fill="none" stroke="#000" stroke-width="1.35" stroke-linejoin="miter" stroke-linecap="square"/>
<circle cx="1011.4" cy="95.3" r="1.8" fill="#000"/>
<text x="1028.4" y="78.8" textLength="9.4" lengthAdjust="spacingAndGlyphs" font-size="6.7" fill="#222">D5</text>
<text x="1017.5" y="86.8" textLength="30.4" lengthAdjust="spacingAndGlyphs" font-size="6.7" fill="#222">BAV19WS</text>
<text x="1020.6" y="127.8" textLength="13.3" lengthAdjust="spacingAndGlyphs" font-size="6.7" fill="#222">R17</text>
<text x="1017.5" y="135.5" textLength="20.1" lengthAdjust="spacingAndGlyphs" font-size="6.7" fill="#222">560 Ω</text>
<text x="1016.1" y="142.7" textLength="23.3" lengthAdjust="spacingAndGlyphs" font-size="6.7" fill="#222">1/10 W</text>
<polyline points="768,172.3 800,172.3 800,178.3 810.2,178.3 810.2,172.3 926.4,172.3" fill="none" stroke="#000" stroke-width="1.35" stroke-linejoin="miter" stroke-linecap="square"/>
<polyline points="926.4,172.4 927.78,169.9 929.99,174.9 932.2,169.9 934.4,174.9 936.61,169.9 938.82,174.9 940.2,172.4" fill="none" stroke="#000" stroke-width="1.35" stroke-linejoin="miter" stroke-linecap="square"/>
<polyline points="940.2,172.4 1072.6,172.4" fill="none" stroke="#000" stroke-width="1.35" stroke-linejoin="miter" stroke-linecap="square"/>
<circle cx="1074.9" cy="172.4" r="2" fill="#fff" stroke="#000" stroke-width="1.35"/>
<text x="1067.9" y="167.8" textLength="14.6" lengthAdjust="spacingAndGlyphs" font-size="6.8" font-weight="bold" style="stroke:#000;stroke-width:0.25px" fill="#000">RTN</text>
<circle cx="782.6" cy="172.3" r="1.8" fill="#000"/>
<circle cx="790.9" cy="172.3" r="1.8" fill="#000"/>
<circle cx="848.8" cy="172.3" r="1.8" fill="#000"/>
<circle cx="855.8" cy="172.3" r="1.8" fill="#000"/>
<circle cx="862.6" cy="172.3" r="1.8" fill="#000"/>
<circle cx="900.7" cy="172.3" r="1.8" fill="#000"/>
<circle cx="912.7" cy="172.3" r="1.8" fill="#000"/>
<circle cx="951.5" cy="172.4" r="1.8" fill="#000"/>
<circle cx="973.7" cy="172.4" r="1.8" fill="#000"/>
<circle cx="1054.5" cy="172.4" r="1.8" fill="#000"/>
<text x="927" y="143.6" textLength="12.4" lengthAdjust="spacingAndGlyphs" font-size="6.7" fill="#222">R15</text>
<text x="920.1" y="151.5" textLength="26" lengthAdjust="spacingAndGlyphs" font-size="6.7" fill="#222">0.009 Ω</text>
<text x="927.9" y="158.2" textLength="10.6" lengthAdjust="spacingAndGlyphs" font-size="6.7" fill="#222">1%</text>
<text x="923.3" y="165.5" textLength="19.7" lengthAdjust="spacingAndGlyphs" font-size="6.7" fill="#222">1/2 W</text>
<polyline points="800.3,181 810,181" fill="none" stroke="#000" stroke-width="1.4" stroke-linejoin="miter" stroke-linecap="square"/>
<polyline points="805.6,181.3 805.6,344.8" fill="none" stroke="#000" stroke-width="1.35" stroke-linejoin="miter" stroke-linecap="square"/>
<path d="M808.6,175.6 L811.8,175.6 L810.2,173.2 Z" fill="#000" stroke="#000" stroke-width="1.35" />
<text x="819.9" y="180.2" textLength="9" lengthAdjust="spacingAndGlyphs" font-size="6.7" fill="#222">Q2</text>
<text x="810.1" y="187.2" textLength="29.2" lengthAdjust="spacingAndGlyphs" font-size="6.7" fill="#222">AON6220</text>
<polyline points="855.8,172.3 855.8,179.5" fill="none" stroke="#000" stroke-width="1.35" stroke-linejoin="miter" stroke-linecap="square"/>
<path d="M851.6,179.5 L860,179.5 L855.8,185.1 Z" fill="#fff" stroke="#000" stroke-width="1.35" />
<polyline points="782.6,172.3 782.6,128.8 791.6,128.8" fill="none" stroke="#000" stroke-width="1.35" stroke-linejoin="miter" stroke-linecap="square"/>
<polyline points="791.6,123.6 791.6,134" fill="none" stroke="#000" stroke-width="1.4" stroke-linejoin="miter" stroke-linecap="square"/>
<polyline points="795.1,123.6 795.1,134" fill="none" stroke="#000" stroke-width="1.4" stroke-linejoin="miter" stroke-linecap="square"/>
<polyline points="795.1,128.8 818.8,128.8" fill="none" stroke="#000" stroke-width="1.35" stroke-linejoin="miter" stroke-linecap="square"/>
<path d="M827.2,124.4 L827.2,133.2 L818.8,128.8 Z" fill="#fff" stroke="#000" stroke-width="1.35" />
<polyline points="818.8,124.2 818.8,133.4" fill="none" stroke="#000" stroke-width="1.35" stroke-linejoin="miter" stroke-linecap="square"/>
<polyline points="827.2,128.8 848.8,128.8 848.8,172.3" fill="none" stroke="#000" stroke-width="1.35" stroke-linejoin="miter" stroke-linecap="square"/>
<polyline points="805.6,128.8 805.6,104.4 814.6,104.4" fill="none" stroke="#000" stroke-width="1.35" stroke-linejoin="miter" stroke-linecap="square"/>
<polyline points="814.6,104.4 816,101.9 818.24,106.9 820.48,101.9 822.72,106.9 824.96,101.9 827.2,106.9 828.6,104.4" fill="none" stroke="#000" stroke-width="1.35" stroke-linejoin="miter" stroke-linecap="square"/>
<polyline points="828.6,104.4 839,104.4 839,128.8" fill="none" stroke="#000" stroke-width="1.35" stroke-linejoin="miter" stroke-linecap="square"/>
<circle cx="805.6" cy="128.8" r="1.8" fill="#000"/>
<circle cx="839" cy="128.8" r="1.8" fill="#000"/>
<text x="815.7" y="91.2" textLength="12.5" lengthAdjust="spacingAndGlyphs" font-size="6.7" fill="#222">R13</text>
<text x="814.3" y="98.8" textLength="16" lengthAdjust="spacingAndGlyphs" font-size="6.7" fill="#222">10 Ω</text>
<text x="807.1" y="121.1" textLength="30.2" lengthAdjust="spacingAndGlyphs" font-size="6.7" fill="#222">BAV19WS</text>
<text x="817.7" y="114.2" textLength="9.1" lengthAdjust="spacingAndGlyphs" font-size="6.7" fill="#222">D4</text>
<text x="786.4" y="106.5" textLength="13.2" lengthAdjust="spacingAndGlyphs" font-size="6.7" fill="#222">C13</text>
<text x="782.9" y="113.5" textLength="20.2" lengthAdjust="spacingAndGlyphs" font-size="6.7" fill="#222">2.2 nF</text>
<text x="783.7" y="120.4" textLength="18.6" lengthAdjust="spacingAndGlyphs" font-size="6.7" fill="#222">200 V</text>
<polyline points="782.6,159.6 811.8,159.6" fill="none" stroke="#000" stroke-width="1.35" stroke-linejoin="miter" stroke-linecap="square"/>
<path d="M820.5,155 L820.5,164.2 L811.8,159.6 Z" fill="#fff" stroke="#000" stroke-width="1.35" />
<path d="M809.8,154.8 Q809.8,154.2 810.6,154.2 L811.8,154.2 L811.8,165 L813,165 Q813.8,165 813.8,164.4" fill="none" stroke="#000" stroke-width="1.35" />
<polyline points="820.5,159.6 848.8,159.6" fill="none" stroke="#000" stroke-width="1.35" stroke-linejoin="miter" stroke-linecap="square"/>
<polyline points="827.9,159.6 827.9,154 848.8,154" fill="none" stroke="#000" stroke-width="1.35" stroke-linejoin="miter" stroke-linecap="square"/>
<circle cx="782.6" cy="159.6" r="1.8" fill="#000"/>
<circle cx="827.9" cy="159.6" r="1.8" fill="#000"/>
<circle cx="848.8" cy="154" r="1.8" fill="#000"/>
<circle cx="848.8" cy="159.6" r="1.8" fill="#000"/>
<text x="811.5" y="142.1" textLength="9" lengthAdjust="spacingAndGlyphs" font-size="6.7" fill="#222">D3</text>
<text x="790.6" y="149.5" textLength="50.8" lengthAdjust="spacingAndGlyphs" font-size="6.7" fill="#222">V12P12-M3/86A</text>
<polyline points="768,197.6 824.4,197.6" fill="none" stroke="#000" stroke-width="1.35" stroke-linejoin="miter" stroke-linecap="square"/>
<path d="M824.4,193 L824.4,202.2 L833,197.6 Z" fill="#fff" stroke="#000" stroke-width="1.35" />
<polyline points="833,193 833,202.2" fill="none" stroke="#000" stroke-width="1.35" stroke-linejoin="miter" stroke-linecap="square"/>
<polyline points="833,197.6 872,197.6" fill="none" stroke="#000" stroke-width="1.35" stroke-linejoin="miter" stroke-linecap="square"/>
<polyline points="872,197.6 873.36,195.1 875.54,200.1 877.71,195.1 879.89,200.1 882.06,195.1 884.24,200.1 885.6,197.6" fill="none" stroke="#000" stroke-width="1.35" stroke-linejoin="miter" stroke-linecap="square"/>
<polyline points="885.6,197.6 941.5,197.6 941.5,242.4 819.3,242.4 819.3,344.8" fill="none" stroke="#000" stroke-width="1.35" stroke-linejoin="miter" stroke-linecap="square"/>
<circle cx="854.5" cy="197.6" r="1.8" fill="#000"/>
<circle cx="900.7" cy="197.6" r="1.8" fill="#000"/>
<text x="824.1" y="208.7" textLength="9" lengthAdjust="spacingAndGlyphs" font-size="6.7" fill="#222">D6</text>
<text x="812.9" y="216" textLength="30.6" lengthAdjust="spacingAndGlyphs" font-size="6.7" fill="#222">BAV19WS</text>
<text x="872.6" y="178.5" textLength="12.5" lengthAdjust="spacingAndGlyphs" font-size="6.7" fill="#222">R16</text>
<text x="868.6" y="186.5" textLength="20.5" lengthAdjust="spacingAndGlyphs" font-size="6.7" fill="#222">820 Ω</text>
<text x="867.8" y="193.7" textLength="22.9" lengthAdjust="spacingAndGlyphs" font-size="6.7" fill="#222">1/10 W</text>
<polyline points="854.5,197.6 854.5,213.5" fill="none" stroke="#000" stroke-width="1.35" stroke-linejoin="miter" stroke-linecap="square"/>
<polyline points="854.5,216.7 854.5,232.2" fill="none" stroke="#000" stroke-width="1.35" stroke-linejoin="miter" stroke-linecap="square"/>
<polyline points="850.2,213.5 858.8,213.5" fill="none" stroke="#000" stroke-width="1.4" stroke-linejoin="miter" stroke-linecap="square"/>
<polyline points="850.2,216.7 858.8,216.7" fill="none" stroke="#000" stroke-width="1.4" stroke-linejoin="miter" stroke-linecap="square"/>
<polyline points="900.7,197.6 900.7,213" fill="none" stroke="#000" stroke-width="1.35" stroke-linejoin="miter" stroke-linecap="square"/>
<polyline points="900.7,216.6 900.7,232.2" fill="none" stroke="#000" stroke-width="1.35" stroke-linejoin="miter" stroke-linecap="square"/>
<polyline points="896.4,213 905,213" fill="none" stroke="#000" stroke-width="1.4" stroke-linejoin="miter" stroke-linecap="square"/>
<polyline points="896.4,216.6 905,216.6" fill="none" stroke="#000" stroke-width="1.4" stroke-linejoin="miter" stroke-linecap="square"/>
<text x="863" y="208.8" textLength="13.3" lengthAdjust="spacingAndGlyphs" font-size="6.7" fill="#222">C20</text>
<text x="860.7" y="215.8" textLength="18" lengthAdjust="spacingAndGlyphs" font-size="6.7" fill="#222">10 μF</text>
<text x="862.2" y="222.8" textLength="14.9" lengthAdjust="spacingAndGlyphs" font-size="6.7" fill="#222">25 V</text>
<text x="918.7" y="209.6" textLength="13.4" lengthAdjust="spacingAndGlyphs" font-size="6.7" fill="#222">C19</text>
<text x="915.6" y="216.6" textLength="20.5" lengthAdjust="spacingAndGlyphs" font-size="6.7" fill="#222">2.2 μF</text>
<text x="917.9" y="223.6" textLength="15" lengthAdjust="spacingAndGlyphs" font-size="6.7" fill="#222">25 V</text>
<polyline points="768,232.2 912.7,232.2 912.7,172.3" fill="none" stroke="#000" stroke-width="1.35" stroke-linejoin="miter" stroke-linecap="square"/>
<circle cx="833.9" cy="232.2" r="1.8" fill="#000"/>
<circle cx="854.5" cy="232.2" r="1.8" fill="#000"/>
<circle cx="900.7" cy="232.2" r="1.8" fill="#000"/>
<polyline points="790.9,172.3 790.9,263.7" fill="none" stroke="#000" stroke-width="1.35" stroke-linejoin="miter" stroke-linecap="square"/>
<polyline points="790.9,263.7 793.5,265.03 788.3,267.16 793.5,269.29 788.3,271.41 793.5,273.54 788.3,275.67 790.9,277" fill="none" stroke="#000" stroke-width="1.35" stroke-linejoin="miter" stroke-linecap="square"/>
<polyline points="790.9,277 790.9,353.3" fill="none" stroke="#000" stroke-width="1.35" stroke-linejoin="miter" stroke-linecap="square"/>
<text x="767.2" y="263" textLength="12.6" lengthAdjust="spacingAndGlyphs" font-size="6.7" fill="#222">R12</text>
<text x="765.2" y="270" textLength="16.4" lengthAdjust="spacingAndGlyphs" font-size="6.7" fill="#222">47 Ω</text>
<text x="762.2" y="277" textLength="23.1" lengthAdjust="spacingAndGlyphs" font-size="6.7" fill="#222">1/10 W</text>
<polyline points="833.9,232.2 833.9,344.8" fill="none" stroke="#000" stroke-width="1.35" stroke-linejoin="miter" stroke-linecap="square"/>
<polyline points="833.9,274.2 846.8,274.2" fill="none" stroke="#000" stroke-width="1.35" stroke-linejoin="miter" stroke-linecap="square"/>
<polyline points="850.2,274.2 862.7,274.2" fill="none" stroke="#000" stroke-width="1.35" stroke-linejoin="miter" stroke-linecap="square"/>
<polyline points="846.8,269.8 846.8,278.6" fill="none" stroke="#000" stroke-width="1.4" stroke-linejoin="miter" stroke-linecap="square"/>
<polyline points="850.2,269.8 850.2,278.6" fill="none" stroke="#000" stroke-width="1.4" stroke-linejoin="miter" stroke-linecap="square"/>
<polyline points="862.7,274.2 902.6,274.2" fill="none" stroke="#000" stroke-width="1.35" stroke-linejoin="miter" stroke-linecap="square"/>
<polyline points="902.6,274.2 903.89,271.7 905.95,276.7 908.02,271.7 910.08,276.7 912.15,271.7 914.21,276.7 915.5,274.2" fill="none" stroke="#000" stroke-width="1.35" stroke-linejoin="miter" stroke-linecap="square"/>
<polyline points="915.5,274.2 951.5,274.2 951.5,172.4" fill="none" stroke="#000" stroke-width="1.35" stroke-linejoin="miter" stroke-linecap="square"/>
<polyline points="862.7,274.2 862.7,344.8" fill="none" stroke="#000" stroke-width="1.35" stroke-linejoin="miter" stroke-linecap="square"/>
<circle cx="833.9" cy="274.2" r="1.8" fill="#000"/>
<circle cx="862.7" cy="274.2" r="1.8" fill="#000"/>
<text x="842.5" y="253.5" textLength="11.6" lengthAdjust="spacingAndGlyphs" font-size="6.7" fill="#222">C15</text>
<text x="838.5" y="260.9" textLength="20.6" lengthAdjust="spacingAndGlyphs" font-size="6.7" fill="#222">4.7 μF</text>
<text x="840.5" y="267.8" textLength="16.6" lengthAdjust="spacingAndGlyphs" font-size="6.7" fill="#222">10  V</text>
<text x="902.9" y="253.5" textLength="12.5" lengthAdjust="spacingAndGlyphs" font-size="6.7" fill="#222">R14</text>
<text x="901.3" y="260.9" textLength="15.5" lengthAdjust="spacingAndGlyphs" font-size="6.7" fill="#222">10 Ω</text>
<text x="890.3" y="267.8" textLength="38.5" lengthAdjust="spacingAndGlyphs" font-size="6.7" fill="#222">1%, 1/10 W</text>
<polyline points="963,61.9 963,280.8 878.1,280.8 878.1,344.8" fill="none" stroke="#000" stroke-width="1.35" stroke-linejoin="miter" stroke-linecap="square"/>
<polyline points="833.9,298.7 917.5,298.7" fill="none" stroke="#000" stroke-width="1.35" stroke-linejoin="miter" stroke-linecap="square"/>
<polyline points="917.5,298.7 917.5,325.1" fill="none" stroke="#000" stroke-width="1.35" stroke-linejoin="miter" stroke-linecap="square"/>
<polyline points="917.5,328.5 917.5,355.3" fill="none" stroke="#000" stroke-width="1.35" stroke-linejoin="miter" stroke-linecap="square"/>
<polyline points="913,325.1 922,325.1" fill="none" stroke="#000" stroke-width="1.4" stroke-linejoin="miter" stroke-linecap="square"/>
<polyline points="913,328.5 922,328.5" fill="none" stroke="#000" stroke-width="1.4" stroke-linejoin="miter" stroke-linecap="square"/>
<circle cx="833.9" cy="298.7" r="1.8" fill="#000"/>
<circle cx="917.5" cy="355.3" r="1.8" fill="#000"/>
<text x="928.8" y="321.6" textLength="12.5" lengthAdjust="spacingAndGlyphs" font-size="6.7" fill="#222">C18</text>
<text x="924.8" y="328.5" textLength="20.8" lengthAdjust="spacingAndGlyphs" font-size="6.7" fill="#222">100 nF</text>
<text x="927.6" y="335.5" textLength="14.5" lengthAdjust="spacingAndGlyphs" font-size="6.7" fill="#222">25 V</text>
<polyline points="833.9,309.3 846.2,309.3" fill="none" stroke="#000" stroke-width="1.35" stroke-linejoin="miter" stroke-linecap="square"/>
<polyline points="849.8,309.3 878.1,309.3" fill="none" stroke="#000" stroke-width="1.35" stroke-linejoin="miter" stroke-linecap="square"/>
<polyline points="846.2,304.9 846.2,313.7" fill="none" stroke="#000" stroke-width="1.4" stroke-linejoin="miter" stroke-linecap="square"/>
<polyline points="849.8,304.9 849.8,313.7" fill="none" stroke="#000" stroke-width="1.4" stroke-linejoin="miter" stroke-linecap="square"/>
<circle cx="833.9" cy="309.3" r="1.8" fill="#000"/>
<circle cx="878.1" cy="309.3" r="1.8" fill="#000"/>
<text x="841.9" y="321.6" textLength="12.2" lengthAdjust="spacingAndGlyphs" font-size="6.7" fill="#222">C14</text>
<text x="837.6" y="328.9" textLength="20.5" lengthAdjust="spacingAndGlyphs" font-size="6.7" fill="#222">2.2 μF</text>
<text x="840.6" y="335.5" textLength="14.5" lengthAdjust="spacingAndGlyphs" font-size="6.7" fill="#222">25 V</text>
<rect x="708.8" y="344.8" width="195.2" height="32.4" fill="none" stroke="#000" stroke-width="1.9"/>
<rect x="786.9" y="353.3" width="110.8" height="16.7" fill="none" stroke="#000" stroke-width="1.2"/>
<rect x="733.5" y="355.9" width="24.7" height="11.9" fill="none" stroke="#000" stroke-width="1.2"/>
<path d="M758.2,361.8 L786.9,361.8" fill="none" stroke="#000" stroke-width="1.35" stroke-dasharray="2.4,2"/>
<polyline points="791,344.8 791,353.3" fill="none" stroke="#000" stroke-width="1.35" stroke-linejoin="miter" stroke-linecap="square"/>
<polyline points="805.4,344.8 805.4,353.3" fill="none" stroke="#000" stroke-width="1.35" stroke-linejoin="miter" stroke-linecap="square"/>
<polyline points="819.3,344.8 819.3,353.3" fill="none" stroke="#000" stroke-width="1.35" stroke-linejoin="miter" stroke-linecap="square"/>
<polyline points="833.9,344.8 833.9,353.3" fill="none" stroke="#000" stroke-width="1.35" stroke-linejoin="miter" stroke-linecap="square"/>
<polyline points="862.7,344.8 862.7,353.3" fill="none" stroke="#000" stroke-width="1.35" stroke-linejoin="miter" stroke-linecap="square"/>
<polyline points="878.1,344.8 878.1,353.3" fill="none" stroke="#000" stroke-width="1.35" stroke-linejoin="miter" stroke-linecap="square"/>
<polyline points="893.4,344.8 893.4,353.3" fill="none" stroke="#000" stroke-width="1.35" stroke-linejoin="miter" stroke-linecap="square"/>
<polyline points="719.9,355.7 726.5,355.7 726.5,366 719.9,366" fill="none" stroke="#000" stroke-width="1.35" stroke-linejoin="miter" stroke-linecap="square"/>
<polyline points="729.5,357.5 729.5,366.4" fill="none" stroke="#000" stroke-width="1.2" stroke-linejoin="miter" stroke-linecap="square"/>
<polyline points="729.5,361.8 733.5,361.8" fill="none" stroke="#000" stroke-width="1.35" stroke-linejoin="miter" stroke-linecap="square"/>
<path d="M721.2,366 L723.8,364.4 L723.8,367.6 Z" fill="#000" stroke="#000" stroke-width="1.35" />
<polyline points="719.9,366 719.9,442" fill="none" stroke="#000" stroke-width="1.35" stroke-linejoin="miter" stroke-linecap="square"/>
<polyline points="754.4,367.8 754.4,420.5" fill="none" stroke="#000" stroke-width="1.35" stroke-linejoin="miter" stroke-linecap="square"/>
<polyline points="749.8,420.5 759,420.5" fill="none" stroke="#000" stroke-width="1.4" stroke-linejoin="miter" stroke-linecap="square"/>
<polyline points="749.8,424.3 759,424.3" fill="none" stroke="#000" stroke-width="1.4" stroke-linejoin="miter" stroke-linecap="square"/>
<text x="731.6" y="353.1" textLength="29.7" lengthAdjust="spacingAndGlyphs" font-size="6.6" font-weight="bold" style="stroke:#000;stroke-width:0.25px" fill="#000">CONTROL</text>
<text x="713.1" y="341.7" textLength="4.7" lengthAdjust="spacingAndGlyphs" font-size="6.2" font-weight="bold" style="stroke:#000;stroke-width:0.25px" fill="#000">D</text>
<text x="739.3" y="341.7" textLength="4.8" lengthAdjust="spacingAndGlyphs" font-size="6.2" font-weight="bold" style="stroke:#000;stroke-width:0.25px" fill="#000">V</text>
<text x="714" y="385.2" textLength="3.8" lengthAdjust="spacingAndGlyphs" font-size="6.2" font-weight="bold" style="stroke:#000;stroke-width:0.25px" fill="#000">S</text>
<text x="722.8" y="385.3" textLength="13.4" lengthAdjust="spacingAndGlyphs" font-size="6.5" font-weight="bold" style="stroke:#000;stroke-width:0.25px" fill="#000">HSD</text>
<text x="755.5" y="385.3" textLength="12.5" lengthAdjust="spacingAndGlyphs" font-size="6.5" font-weight="bold" style="stroke:#000;stroke-width:0.25px" fill="#000">BPP</text>
<text transform="translate(788.7,342.2) rotate(-90)" x="-0.3" y="0" textLength="14.3" lengthAdjust="spacingAndGlyphs" font-size="5.8" font-weight="bold" style="stroke:#000;stroke-width:0.2px" fill="#000">FWD</text>
<text transform="translate(803,342.2) rotate(-90)" x="-0.3" y="0" textLength="8.3" lengthAdjust="spacingAndGlyphs" font-size="5.8" font-weight="bold" style="stroke:#000;stroke-width:0.2px" fill="#000">SR</text>
<text transform="translate(817.6,342.2) rotate(-90)" x="-0.3" y="0" textLength="12.6" lengthAdjust="spacingAndGlyphs" font-size="5.8" font-weight="bold" style="stroke:#000;stroke-width:0.2px" fill="#000">BPS</text>
<text transform="translate(832.1,342.2) rotate(-90)" x="-0.3" y="0" textLength="14.8" lengthAdjust="spacingAndGlyphs" font-size="5.8" font-weight="bold" style="stroke:#000;stroke-width:0.2px" fill="#000">GND</text>
<text transform="translate(861.6,342.2) rotate(-90)" x="-0.3" y="0" textLength="7.7" lengthAdjust="spacingAndGlyphs" font-size="5.8" font-weight="bold" style="stroke:#000;stroke-width:0.2px" fill="#000">IS</text>
<text transform="translate(876.5,342.2) rotate(-90)" x="-0.3" y="0" textLength="17.5" lengthAdjust="spacingAndGlyphs" font-size="5.8" font-weight="bold" style="stroke:#000;stroke-width:0.2px" fill="#000">VOUT</text>
<text transform="translate(891.4,342.2) rotate(-90)" x="-0.3" y="0" textLength="17" lengthAdjust="spacingAndGlyphs" font-size="5.8" font-weight="bold" style="stroke:#000;stroke-width:0.2px" fill="#000">VB/D</text>
<text x="776.1" y="390.6" textLength="60.7" lengthAdjust="spacingAndGlyphs" font-size="6.8" font-weight="bold" style="stroke:#000;stroke-width:0.25px" fill="#000">InnoSwitch4-Pro</text>
<text x="801.7" y="397.5" textLength="8.6" lengthAdjust="spacingAndGlyphs" font-size="6.7" fill="#222">U2</text>
<text x="781.2" y="403.6" textLength="50" lengthAdjust="spacingAndGlyphs" font-size="6.7" fill="#222">INN4373F-H341</text>
<text x="766.7" y="416.7" textLength="12.6" lengthAdjust="spacingAndGlyphs" font-size="6.7" fill="#222">C12</text>
<text x="762.7" y="423.6" textLength="20.3" lengthAdjust="spacingAndGlyphs" font-size="6.7" fill="#222">4.7 μF</text>
<text x="766" y="430.7" textLength="14.5" lengthAdjust="spacingAndGlyphs" font-size="6.7" fill="#222">25 V</text>
<polyline points="897.7,355.3 976.2,355.3" fill="none" stroke="#000" stroke-width="1.35" stroke-linejoin="miter" stroke-linecap="square"/>
<circle cx="978.4" cy="355.3" r="1.9" fill="#fff" stroke="#000" stroke-width="1.35"/>
<text x="982" y="357.5" textLength="16.6" lengthAdjust="spacingAndGlyphs" font-size="6.6" font-weight="bold" style="stroke:#000;stroke-width:0.25px" fill="#000">uVCC</text>
<polyline points="897.7,361.9 976.2,361.9" fill="none" stroke="#000" stroke-width="1.35" stroke-linejoin="miter" stroke-linecap="square"/>
<circle cx="978.4" cy="361.9" r="1.9" fill="#fff" stroke="#000" stroke-width="1.35"/>
<text x="982" y="364.1" textLength="13.1" lengthAdjust="spacingAndGlyphs" font-size="6.6" font-weight="bold" style="stroke:#000;stroke-width:0.25px" fill="#000">SDA</text>
<polyline points="897.7,368.3 976.2,368.3" fill="none" stroke="#000" stroke-width="1.35" stroke-linejoin="miter" stroke-linecap="square"/>
<circle cx="978.4" cy="368.3" r="1.9" fill="#fff" stroke="#000" stroke-width="1.35"/>
<text x="982" y="370.5" textLength="13.1" lengthAdjust="spacingAndGlyphs" font-size="6.6" font-weight="bold" style="stroke:#000;stroke-width:0.25px" fill="#000">SCL</text>
<text x="425" y="491.5" font-size="18.8" font-weight="bold" textLength="248" lengthAdjust="spacingAndGlyphs" fill="#000">Schematic - Power Section</text>
</svg></body></html>
